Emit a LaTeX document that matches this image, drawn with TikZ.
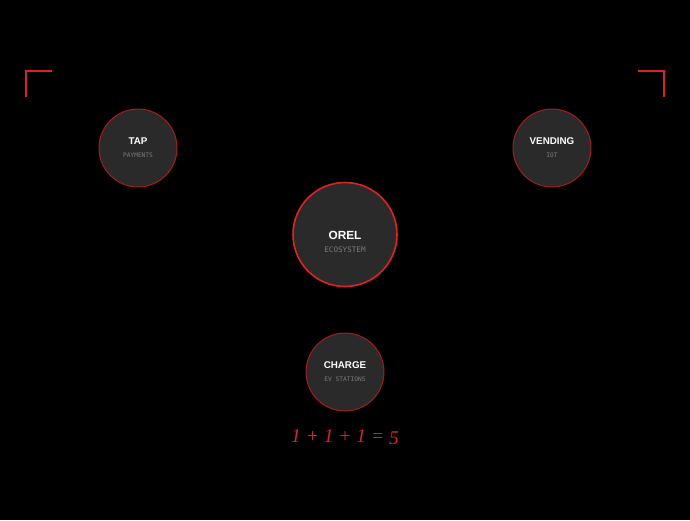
\documentclass[tikz,border=0pt]{standalone}
\usepackage{fontspec}
\setmainfont{Liberation Serif}
\setsansfont{Liberation Sans}
\setmonofont{DejaVu Sans Mono}
\definecolor{bg}{HTML}{000000}
\definecolor{nodefill}{HTML}{2A2A2A}
\definecolor{ringdark}{HTML}{A81C1C}
\definecolor{ringbright}{HTML}{E02424}
\definecolor{accent}{HTML}{DD2222}
\definecolor{subgray}{HTML}{7A7A7A}
\begin{document}
\begin{tikzpicture}[x=1pt,y=-1pt,
  hub/.style={circle,fill=nodefill,draw=ringdark,line width=1pt,minimum size=78pt,inner sep=0pt},
  core/.style={circle,fill=nodefill,draw=ringbright,line width=1.6pt,minimum size=104pt,inner sep=0pt},
  ttl/.style={text=white,font=\sffamily\bfseries\fontsize{9.8}{10}\selectfont,inner sep=0pt},
  sub/.style={text=subgray,font=\ttfamily\fontsize{6.2}{7}\selectfont,inner sep=0pt},
  bracket/.style={draw=accent,line width=2pt}]
\fill[bg] (0,0) rectangle (690,520);
\useasboundingbox (0,0) rectangle (690,520);
% corner brackets
\coordinate (lb1) at (52,71); \coordinate (lb2) at (26,71); \coordinate (lb3) at (26,97);
\draw[bracket] (lb1) -- (lb2) -- (lb3);
\coordinate (rb1) at (638,71); \coordinate (rb2) at (664,71); \coordinate (rb3) at (664,97);
\draw[bracket] (rb1) -- (rb2) -- (rb3);
% circles
\node[hub] (tap) at (138,148) {};
\node[hub] (vend) at (552,148) {};
\node[core] (orel) at (345,234.5) {};
\node[hub] (charge) at (345,372) {};
% labels
\node[ttl] (tapT) at (138,141.5) {TAP};
\node[sub] (tapS) at (138,155.5) {PAYMENTS};
\node[ttl] (vendT) at (552,141.5) {VENDING};
\node[sub] (vendS) at (552,155.5) {IOT};
\node[ttl,font=\sffamily\bfseries\fontsize{11.8}{12}\selectfont] (orelT) at (345,235.5) {OREL};
\node[sub,font=\ttfamily\fontsize{7.6}{8}\selectfont] (orelS) at (345,249.5) {ECOSYSTEM};
\node[ttl] (chargeT) at (345,365.5) {CHARGE};
\node[sub] (chargeS) at (345,379.5) {EV STATIONS};
% equation
\node[text=accent,font=\itshape\fontsize{19.5}{20}\selectfont,inner sep=0pt] (eq) at (345,437.5) {1 + 1 + 1 = \raisebox{-2pt}{5}};
\end{tikzpicture}
\end{document}
